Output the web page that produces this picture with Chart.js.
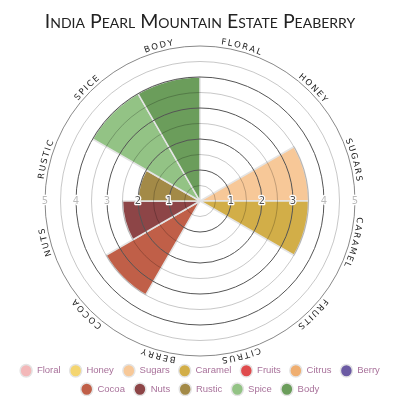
<!DOCTYPE html>
<html><head><meta charset="utf-8">
<script src="https://cdn.jsdelivr.net/npm/chart.js@4.4.1/dist/chart.umd.min.js"></script>
<style>html,body{margin:0;padding:0;background:#fff}#wrap{width:400px;height:400px}</style>
</head><body><div id="wrap"><canvas id="c"></canvas></div>
<script>
const chartTitle = 'India Pearl Mountain Estate Peaberry';
const categories = ['Floral','Honey','Sugars','Caramel','Fruits','Citrus','Berry','Cocoa','Nuts','Rustic','Spice','Body'];
const values = [0, 0, 3.5, 3.5, 0, 0, 0, 3.5, 2.5, 2, 4, 4];
const colors = ['#f3b8b9','#f4d570','#f7c898','#d2ae48','#df4b4d','#efae70','#6b5aa3','#c05f48','#8d4547','#a38a47','#93c385','#6b9d5b'];
const tickValues = [1, 2, 3, 4, 5];

const curvedLabels = {
  id: 'curvedLabels',
  afterDraw(chart) {
    const s = chart.scales.r, ctx = chart.ctx;
    const R = s.drawingArea + 3;
    const n = categories.length;
    const step = 2 * Math.PI / n;
    const sp = 1.6;
    ctx.save();
    ctx.font = '8.5px "DejaVu Sans", sans-serif';
    ctx.fillStyle = '#222';
    ctx.textAlign = 'center';
    ctx.textBaseline = 'alphabetic';
    categories.forEach((lab, i) => {
      const chars = [...lab.toUpperCase()];
      const widths = chars.map(c => ctx.measureText(c).width);
      const W = widths.reduce((a, b) => a + b, 0) + sp * (chars.length - 1);
      const mid = s.getIndexAngle(i) + step / 2;
      let off = -W / 2;
      chars.forEach((c, j) => {
        const th = mid + (off + widths[j] / 2) / R;
        ctx.save();
        ctx.translate(s.xCenter + R * Math.sin(th), s.yCenter - R * Math.cos(th));
        ctx.rotate(th);
        ctx.fillText(c, 0, 0);
        ctx.restore();
        off += widths[j] + sp;
      });
    });
    ctx.restore();
  }
};

const axisTicks = {
  id: 'axisTicks',
  afterDraw(chart) {
    const s = chart.scales.r, ctx = chart.ctx;
    const n = categories.length;
    ctx.save();
    ctx.font = '10px "DejaVu Sans", sans-serif';
    ctx.textAlign = 'center';
    ctx.textBaseline = 'middle';
    ctx.lineJoin = 'round';
    [[1, n / 4], [-1, 3 * n / 4]].forEach(([side, k]) => {
      const cover = Math.max(values[k - 1], values[k]);
      tickValues.forEach(v => {
        const x = s.xCenter + side * s.getDistanceFromCenterForValue(v);
        ctx.lineWidth = 2.5;
        ctx.strokeStyle = '#fff';
        ctx.strokeText(String(v), x, s.yCenter);
        ctx.fillStyle = v <= cover ? '#555' : '#bbb';
        ctx.fillText(String(v), x, s.yCenter);
      });
    });
    ctx.restore();
  }
};

new Chart(document.getElementById('c'), {
  type: 'polarArea',
  data: {
    labels: categories,
    datasets: [{
      data: values,
      backgroundColor: colors,
      borderColor: '#e4e4e4',
      borderWidth: 1.5
    }]
  },
  options: {
    responsive: true,
    maintainAspectRatio: false,
    animation: false,
    layout: { padding: { bottom: -4 } },
    scales: {
      r: {
        min: 0, max: 5,
        ticks: { display: false, stepSize: 0.5 },
        grid: {
          z: 1,
          circular: true,
          lineWidth: 1,
          color: c => (c.tick && c.tick.value === 5) ? '#888' : ((c.tick && c.tick.value % 1 === 0) ? '#555' : 'rgba(0,0,0,0.22)')
        },
        angleLines: { display: false },
        pointLabels: { display: false }
      }
    },
    plugins: {
      title: {
        display: true,
        text: chartTitle,
        color: '#222',
        font: { family: 'Lato, "Open Sans", sans-serif', size: 19.5, weight: 'small-caps' },
        padding: { top: 10, bottom: 12.6 }
      },
      legend: {
        position: 'bottom',
        labels: {
          usePointStyle: true,
          pointStyle: 'circle',
          pointStyleWidth: 12,
          boxHeight: 9,
          padding: 9,
          color: '#a8719a',
          font: { family: '"Liberation Sans", Arial, sans-serif', size: 9.5 }
        }
      },
      tooltip: { enabled: false }
    }
  },
  plugins: [curvedLabels, axisTicks]
});
</script>
</body></html>
